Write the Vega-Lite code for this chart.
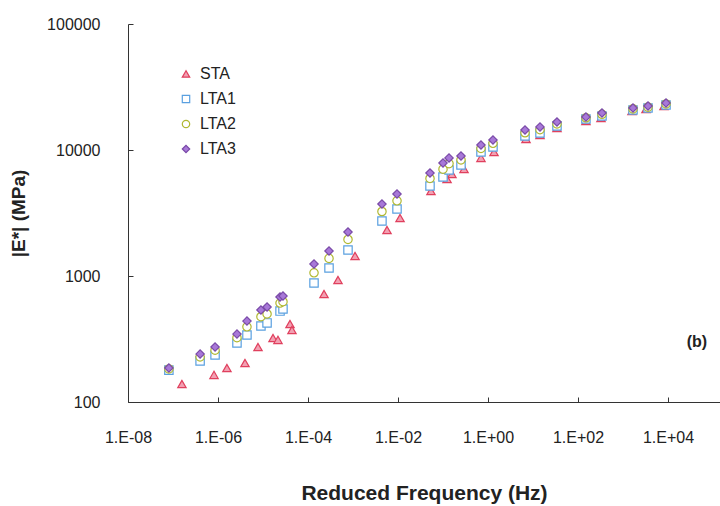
{
  "$schema": "https://vega.github.io/schema/vega-lite/v6.json",
  "width": 592,
  "height": 378,
  "autosize": "none",
  "padding": {"left": 128, "top": 24, "right": 0, "bottom": 104},
  "background": "white",
  "config": {
    "font": "Liberation Sans",
    "view": {"stroke": null},
    "axis": {"grid": false, "domainColor": "#333", "tickColor": "#333", "labelColor": "#222", "titleColor": "#222", "labelFont": "Liberation Sans", "titleFont": "Liberation Sans"}
  },
  "datasets": {
    "pts": [
      {"series": "STA", "f": 1.58e-7, "E": 139},
      {"series": "STA", "f": 8.15e-7, "E": 164},
      {"series": "STA", "f": 1.58e-6, "E": 186},
      {"series": "STA", "f": 3.98e-6, "E": 204},
      {"series": "STA", "f": 7.74e-6, "E": 273},
      {"series": "STA", "f": 1.67e-5, "E": 322},
      {"series": "STA", "f": 2.15e-5, "E": 311},
      {"series": "STA", "f": 3.98e-5, "E": 416},
      {"series": "STA", "f": 4.4e-5, "E": 373},
      {"series": "STA", "f": 2.27e-4, "E": 720},
      {"series": "STA", "f": 4.64e-4, "E": 930},
      {"series": "STA", "f": 1.11e-3, "E": 1442},
      {"series": "STA", "f": 5.7e-3, "E": 2317},
      {"series": "STA", "f": 0.0111, "E": 2886},
      {"series": "STA", "f": 0.054, "E": 4730},
      {"series": "STA", "f": 0.123, "E": 5890},
      {"series": "STA", "f": 0.158, "E": 6450},
      {"series": "STA", "f": 0.293, "E": 7065},
      {"series": "STA", "f": 0.698, "E": 8650},
      {"series": "STA", "f": 1.36, "E": 9640},
      {"series": "STA", "f": 6.99, "E": 12230},
      {"series": "STA", "f": 14.3, "E": 13150},
      {"series": "STA", "f": 34.1, "E": 14950},
      {"series": "STA", "f": 150, "E": 17000},
      {"series": "STA", "f": 324, "E": 17950},
      {"series": "STA", "f": 1585, "E": 20400},
      {"series": "STA", "f": 3243, "E": 21150},
      {"series": "STA", "f": 8150, "E": 22340},

      {"series": "LTA1", "f": 8.1e-8, "E": 179},
      {"series": "LTA1", "f": 4.0e-7, "E": 212},
      {"series": "LTA1", "f": 8.6e-7, "E": 236},
      {"series": "LTA1", "f": 2.64e-6, "E": 294},
      {"series": "LTA1", "f": 4.4e-6, "E": 340},
      {"series": "LTA1", "f": 9.0e-6, "E": 401},
      {"series": "LTA1", "f": 1.23e-5, "E": 424},
      {"series": "LTA1", "f": 2.39e-5, "E": 527},
      {"series": "LTA1", "f": 2.78e-5, "E": 547},
      {"series": "LTA1", "f": 1.36e-4, "E": 880},
      {"series": "LTA1", "f": 2.93e-4, "E": 1157},
      {"series": "LTA1", "f": 7.74e-4, "E": 1608},
      {"series": "LTA1", "f": 4.4e-3, "E": 2733},
      {"series": "LTA1", "f": 9.5e-3, "E": 3404},
      {"series": "LTA1", "f": 0.0514, "E": 5180},
      {"series": "LTA1", "f": 0.1, "E": 6106},
      {"series": "LTA1", "f": 0.136, "E": 6938},
      {"series": "LTA1", "f": 0.251, "E": 7600},
      {"series": "LTA1", "f": 0.698, "E": 9640},
      {"series": "LTA1", "f": 1.29, "E": 10560},
      {"series": "LTA1", "f": 6.64, "E": 12910},
      {"series": "LTA1", "f": 14.3, "E": 13640},
      {"series": "LTA1", "f": 34.1, "E": 15500},
      {"series": "LTA1", "f": 150, "E": 17620},
      {"series": "LTA1", "f": 341, "E": 18620},
      {"series": "LTA1", "f": 1667, "E": 20770},
      {"series": "LTA1", "f": 3594, "E": 21540},
      {"series": "LTA1", "f": 9030, "E": 22770},

      {"series": "LTA2", "f": 8.1e-8, "E": 183},
      {"series": "LTA2", "f": 4.0e-7, "E": 228},
      {"series": "LTA2", "f": 8.6e-7, "E": 258},
      {"series": "LTA2", "f": 2.64e-6, "E": 324},
      {"series": "LTA2", "f": 4.4e-6, "E": 395},
      {"series": "LTA2", "f": 9.0e-6, "E": 475},
      {"series": "LTA2", "f": 1.23e-5, "E": 500},
      {"series": "LTA2", "f": 2.39e-5, "E": 610},
      {"series": "LTA2", "f": 2.78e-5, "E": 625},
      {"series": "LTA2", "f": 1.36e-4, "E": 1060},
      {"series": "LTA2", "f": 2.93e-4, "E": 1380},
      {"series": "LTA2", "f": 7.74e-4, "E": 1950},
      {"series": "LTA2", "f": 4.4e-3, "E": 3250},
      {"series": "LTA2", "f": 9.5e-3, "E": 3950},
      {"series": "LTA2", "f": 0.0514, "E": 5950},
      {"series": "LTA2", "f": 0.1, "E": 7050},
      {"series": "LTA2", "f": 0.136, "E": 7800},
      {"series": "LTA2", "f": 0.251, "E": 8350},
      {"series": "LTA2", "f": 0.698, "E": 10300},
      {"series": "LTA2", "f": 1.29, "E": 11300},
      {"series": "LTA2", "f": 6.64, "E": 13700},
      {"series": "LTA2", "f": 14.3, "E": 14500},
      {"series": "LTA2", "f": 34.1, "E": 16100},
      {"series": "LTA2", "f": 150, "E": 18000},
      {"series": "LTA2", "f": 341, "E": 19200},
      {"series": "LTA2", "f": 1667, "E": 21200},
      {"series": "LTA2", "f": 3594, "E": 21900},
      {"series": "LTA2", "f": 9030, "E": 23200},

      {"series": "LTA3", "f": 8.1e-8, "E": 186},
      {"series": "LTA3", "f": 4.0e-7, "E": 240},
      {"series": "LTA3", "f": 8.6e-7, "E": 273},
      {"series": "LTA3", "f": 2.64e-6, "E": 346},
      {"series": "LTA3", "f": 4.4e-6, "E": 439},
      {"series": "LTA3", "f": 9.0e-6, "E": 537},
      {"series": "LTA3", "f": 1.23e-5, "E": 567},
      {"series": "LTA3", "f": 2.39e-5, "E": 681},
      {"series": "LTA3", "f": 2.78e-5, "E": 694},
      {"series": "LTA3", "f": 1.36e-4, "E": 1245},
      {"series": "LTA3", "f": 2.93e-4, "E": 1580},
      {"series": "LTA3", "f": 7.74e-4, "E": 2236},
      {"series": "LTA3", "f": 4.4e-3, "E": 3728},
      {"series": "LTA3", "f": 9.5e-3, "E": 4477},
      {"series": "LTA3", "f": 0.0514, "E": 6567},
      {"series": "LTA3", "f": 0.1, "E": 7886},
      {"series": "LTA3", "f": 0.136, "E": 8649},
      {"series": "LTA3", "f": 0.251, "E": 8965},
      {"series": "LTA3", "f": 0.698, "E": 10965},
      {"series": "LTA3", "f": 1.29, "E": 12000},
      {"series": "LTA3", "f": 6.64, "E": 14420},
      {"series": "LTA3", "f": 14.3, "E": 15240},
      {"series": "LTA3", "f": 34.1, "E": 16680},
      {"series": "LTA3", "f": 150, "E": 18290},
      {"series": "LTA3", "f": 341, "E": 19680},
      {"series": "LTA3", "f": 1667, "E": 21540},
      {"series": "LTA3", "f": 3594, "E": 22340},
      {"series": "LTA3", "f": 9030, "E": 23600}
    ],
    "tag": [{"f": 44000, "E": 300, "label": "(b)"}]
  },
  "layer": [
    {
      "data": {"name": "pts"},
      "mark": {"type": "point", "size": 70, "strokeWidth": 1.2, "opacity": 1, "clip": true},
      "encoding": {
        "x": {
          "field": "f", "type": "quantitative",
          "scale": {"type": "log", "domain": [1e-8, 143000], "nice": false},
          "axis": {
            "title": "Reduced Frequency (Hz)",
            "values": [1e-8, 1e-6, 1e-4, 1e-2, 1, 100, 10000],
            "labelExpr": "'1.E' + (round(log(datum.value)/LN10) >= 0 ? '+' : '-') + (abs(round(log(datum.value)/LN10)) < 10 ? '0' : '') + abs(round(log(datum.value)/LN10))",
            "labelFontSize": 16, "titleFontSize": 21, "titleFontWeight": "bold",
            "tickSize": -5, "labelPadding": 32, "titlePadding": 37, "labelFlush": false
          }
        },
        "y": {
          "field": "E", "type": "quantitative",
          "scale": {"type": "log", "domain": [100, 100000], "nice": false},
          "axis": {
            "title": "|E*| (MPa)",
            "values": [100, 1000, 10000, 100000],
            "format": ".0f",
            "labelFontSize": 16, "titleFontSize": 19, "titleFontWeight": "bold",
            "tickSize": -5, "labelPadding": 33, "titlePadding": 18, "labelFlush": false
          }
        },
        "shape": {
          "field": "series", "type": "nominal",
          "scale": {"domain": ["STA", "LTA1", "LTA2", "LTA3"], "range": ["triangle-up", "square", "circle", "diamond"]},
          "legend": {"title": null, "orient": "none", "legendX": 50, "legendY": 42, "labelFontSize": 16, "labelColor": "#222", "labelOffset": 6, "rowPadding": 9, "symbolSize": 55, "symbolStrokeWidth": 1.2}
        },
        "stroke": {
          "field": "series", "type": "nominal",
          "scale": {"domain": ["STA", "LTA1", "LTA2", "LTA3"], "range": ["#e0405e", "#5aa0e0", "#b0b830", "#7a4aa8"]},
          "legend": {"title": null, "orient": "none", "legendX": 50, "legendY": 42, "labelFontSize": 16, "labelColor": "#222", "labelOffset": 6, "rowPadding": 9, "symbolSize": 55, "symbolStrokeWidth": 1.2}
        },
        "fill": {
          "field": "series", "type": "nominal",
          "scale": {"domain": ["STA", "LTA1", "LTA2", "LTA3"], "range": ["#f2a0b2", "#ffffff", "#ffffff", "#a878d8"]},
          "legend": {"title": null, "orient": "none", "legendX": 50, "legendY": 42, "labelFontSize": 16, "labelColor": "#222", "labelOffset": 6, "rowPadding": 9, "symbolSize": 55, "symbolStrokeWidth": 1.2}
        }
      }
    },
    {
      "data": {"name": "tag"},
      "mark": {"type": "text", "fontSize": 16, "fontWeight": "bold", "color": "#222", "font": "Liberation Sans"},
      "encoding": {
        "x": {"field": "f", "type": "quantitative"},
        "y": {"field": "E", "type": "quantitative"},
        "text": {"field": "label"}
      }
    }
  ]
}
